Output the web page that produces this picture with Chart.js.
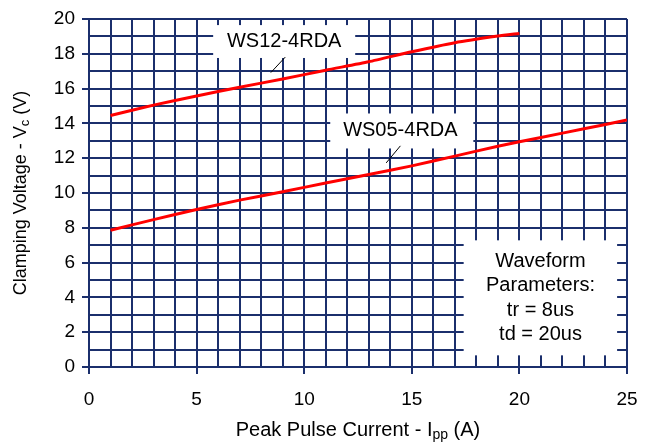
<!DOCTYPE html>
<html lang="en">
<head>
<meta charset="UTF-8">
<title>Clamping Voltage vs Peak Pulse Current</title>
<script src="https://cdn.jsdelivr.net/npm/chart.js"></script>
<style>
  html, body { margin: 0; padding: 0; background: #fff; }
  #wrap { width: 655px; height: 443px; }
</style>
</head>
<body>
<div id="wrap"><canvas id="chart" width="655" height="443"></canvas></div>
<script>
// values
const ws12X = [1, 3, 5, 7, 9, 11, 13, 15, 17, 19, 20];
const ws12V = [14.45, 15.05, 15.58, 16.08, 16.55, 17.06, 17.54, 18.12, 18.64, 19.02, 19.17];
const ws05X = [1, 3, 5, 7, 9, 11, 13, 15, 17, 19, 21, 23, 25];
const ws05V = [7.86, 8.47, 9.05, 9.59, 10.07, 10.58, 11.06, 11.56, 12.12, 12.69, 13.19, 13.69, 14.19];
const xLabels = [0, 5, 10, 15, 20, 25];
const yLabels = [0, 2, 4, 6, 8, 10, 12, 14, 16, 18, 20];
const noteLines = ['Waveform', 'Parameters:', 'tr = 8us', 'td = 20us'];

const NAVY = '#1b2f6c';
const FONT = '"Liberation Sans", Arial, sans-serif';

// callout boxes, in data units
const callouts = [
  { text: ['WS12-4RDA'], x0: 5.77, x1: 12.37, y0: 19.65, y1: 17.76, tx: 9.07, ty: [18.73],
    leader: [[9.12, 17.81], [8.45, 16.92]] },
  { text: ['WS05-4RDA'], x0: 11.21, x1: 17.86, y0: 14.57, y1: 12.56, tx: 14.47, ty: [13.61],
    leader: [[14.47, 12.71], [13.81, 11.73]] },
  { text: noteLines, x0: 17.41, x1: 24.54, y0: 7.28, y1: 0.67, tx: 20.98, ty: [6.08, 4.66, 3.26, 1.88] }
];

function toPts(xs, ys) { return xs.map((x, i) => ({ x: x, y: ys[i] })); }

// draw a string with one subscripted part, centred on (cx, cy)
function drawParts(ctx, parts, cx, cy, size) {
  const subSize = Math.round(size * 0.7);
  let total = 0;
  parts.forEach(p => {
    ctx.font = (p.sub ? subSize : size) + 'px ' + FONT;
    p.w = ctx.measureText(p.t).width;
    total += p.w;
  });
  let x = cx - total / 2;
  ctx.textAlign = 'left';
  ctx.textBaseline = 'alphabetic';
  parts.forEach(p => {
    ctx.font = (p.sub ? subSize : size) + 'px ' + FONT;
    ctx.fillText(p.t, x, cy + size * 0.36 + (p.sub ? size * 0.12 : 0));
    x += p.w;
  });
}

const overlay = {
  id: 'overlay',
  afterDatasetsDraw(chart) {
    const { ctx, scales: { x, y } } = chart;
    ctx.save();
    callouts.forEach(c => {
      const l = x.getPixelForValue(c.x0), r = x.getPixelForValue(c.x1);
      const t = y.getPixelForValue(c.y0), b = y.getPixelForValue(c.y1);
      ctx.fillStyle = '#fff';
      ctx.fillRect(l, t, r - l, b - t);
      ctx.fillStyle = '#000';
      ctx.font = '20px ' + FONT;
      ctx.textAlign = 'center';
      ctx.textBaseline = 'middle';
      c.text.forEach((s, i) => ctx.fillText(s, x.getPixelForValue(c.tx), y.getPixelForValue(c.ty[i])));
      if (c.leader) {
        ctx.strokeStyle = '#000';
        ctx.lineWidth = 1;
        ctx.beginPath();
        ctx.moveTo(x.getPixelForValue(c.leader[0][0]), y.getPixelForValue(c.leader[0][1]));
        ctx.lineTo(x.getPixelForValue(c.leader[1][0]), y.getPixelForValue(c.leader[1][1]));
        ctx.stroke();
      }
    });
    ctx.restore();
  },
  afterDraw(chart) {
    const { ctx, chartArea: a } = chart;
    ctx.save();
    ctx.fillStyle = '#000';
    drawParts(ctx, [{ t: 'Peak Pulse Current - I' }, { t: 'pp', sub: true }, { t: ' (A)' }],
      (a.left + a.right) / 2, 429, 20);
    ctx.translate(20, (a.top + a.bottom) / 2);
    ctx.rotate(-Math.PI / 2);
    drawParts(ctx, [{ t: 'Clamping Voltage - V' }, { t: 'c', sub: true }, { t: ' (V)' }], 0, 0, 18);
    ctx.restore();
  }
};

new Chart(document.getElementById('chart'), {
  type: 'line',
  data: {
    datasets: [
      { label: 'WS12-4RDA', data: toPts(ws12X, ws12V), borderColor: '#ff0000', borderWidth: 3,
        pointRadius: 0, fill: false, tension: 0.2 },
      { label: 'WS05-4RDA', data: toPts(ws05X, ws05V), borderColor: '#ff0000', borderWidth: 3,
        pointRadius: 0, fill: false, tension: 0.2 }
    ]
  },
  options: {
    responsive: false,
    animation: false,
    devicePixelRatio: 1,
    layout: { padding: { left: 0, top: 19, right: 28, bottom: 0 } },
    plugins: { legend: { display: false }, tooltip: { enabled: false } },
    scales: {
      x: {
        type: 'linear', min: 0, max: 25,
        afterFit(s) { s.height = 76; },
        ticks: {
          stepSize: 1, autoSkip: false, maxRotation: 0, padding: 14, color: '#000',
          font: { family: FONT, size: 19 },
          callback: v => xLabels.includes(v) ? String(v) : ''
        },
        grid: {
          color: NAVY, lineWidth: 2, tickLength: 7,
          tickColor: c => (c.tick && xLabels.includes(c.tick.value)) ? NAVY : 'rgba(0,0,0,0)'
        },
        border: { color: NAVY, width: 2 }
      },
      y: {
        min: 0, max: 20,
        afterFit(s) { s.width = 89; },
        ticks: {
          stepSize: 1, autoSkip: false, padding: 7, color: '#000',
          font: { family: FONT, size: 19 },
          callback: v => yLabels.includes(v) ? String(v) : ''
        },
        grid: {
          color: NAVY, lineWidth: 2, tickLength: 7,
          tickColor: c => (c.tick && yLabels.includes(c.tick.value)) ? NAVY : 'rgba(0,0,0,0)'
        },
        border: { color: NAVY, width: 2 }
      }
    }
  },
  plugins: [overlay]
});
</script>
</body>
</html>
